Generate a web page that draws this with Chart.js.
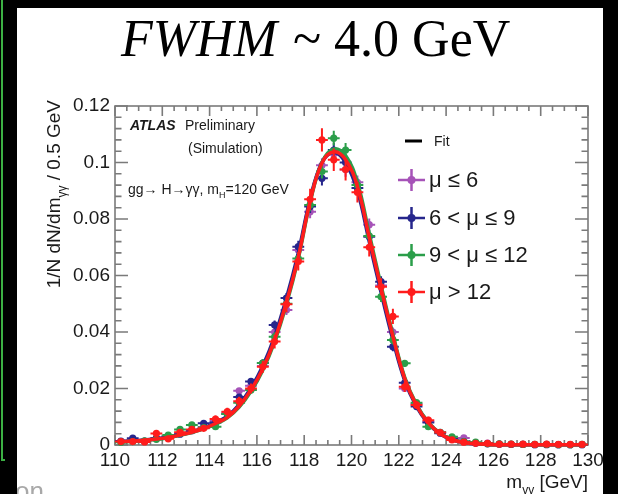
<!DOCTYPE html>
<html>
<head>
<meta charset="utf-8">
<script src="https://cdn.jsdelivr.net/npm/chart.js@4.4.0/dist/chart.umd.min.js"></script>
<style>
html, body { margin: 0; padding: 0; background: #000; }
canvas { display: block; }
</style>
</head>
<body>
<canvas id="massChart" width="618" height="494"></canvas>
<script>
// bin centres of m_yy (0.5 GeV bins)
const binCenters = [110.25, 110.75, 111.25, 111.75, 112.25, 112.75, 113.25, 113.75, 114.25, 114.75,
    115.25, 115.75, 116.25, 116.75, 117.25, 117.75, 118.25, 118.75, 119.25, 119.75,
    120.25, 120.75, 121.25, 121.75, 122.25, 122.75, 123.25, 123.75, 124.25, 124.75,
    125.25, 125.75, 126.25, 126.75, 127.25, 127.75, 128.25, 128.75, 129.25, 129.75]

const seriesLabels = ['μ ≤ 6', '6 < μ ≤ 9', '9 < μ ≤ 12', 'μ > 12']

// measured points, 1/N dN/dm per 0.5 GeV
const muUpTo6 = [0.0012, 0.0015, 0.0013, 0.0022, 0.0028, 0.0040, 0.0050, 0.0064, 0.0085, 0.0115,
    0.0192, 0.0210, 0.0280, 0.0400, 0.0478, 0.0690, 0.0826, 0.0990, 0.1030, 0.0975,
    0.0930, 0.0780, 0.0565, 0.0400, 0.0200, 0.0145, 0.0082, 0.0045, 0.0024, 0.0025,
    0.0008, 0.0007, 0.0003, 0.0002, 0.0002, 0.0001, 0.0002, 0.0001, 0.0001, 0.0001]
const mu6to9 = [0.0014, 0.0024, 0.0014, 0.0024, 0.0026, 0.0038, 0.0052, 0.0077, 0.0080, 0.0110,
    0.0170, 0.0225, 0.0290, 0.0425, 0.0520, 0.0702, 0.0844, 0.0944, 0.1044, 0.1000,
    0.0910, 0.0737, 0.0578, 0.0348, 0.0220, 0.0136, 0.0080, 0.0042, 0.0022, 0.0012,
    0.0006, 0.0004, 0.0003, 0.0002, 0.0002, 0.0001, 0.0001, 0.0001, 0.0001, 0.0001]
const mu9to12 = [0.0010, 0.0012, 0.0015, 0.0020, 0.0035, 0.0055, 0.0071, 0.0062, 0.0065, 0.0110,
    0.0150, 0.0195, 0.0290, 0.0383, 0.0500, 0.0660, 0.0850, 0.0968, 0.1086, 0.1044,
    0.0920, 0.0740, 0.0525, 0.0372, 0.0289, 0.0150, 0.0065, 0.0045, 0.0029, 0.0012,
    0.0010, 0.0005, 0.0004, 0.0003, 0.0002, 0.0002, 0.0002, 0.0001, 0.0001, 0.0002]
const muAbove12 = [0.0012, 0.0012, 0.0011, 0.0041, 0.0022, 0.0045, 0.0055, 0.0059, 0.0092, 0.0118,
    0.0155, 0.0200, 0.0277, 0.0366, 0.0498, 0.0650, 0.0870, 0.1080, 0.1010, 0.0975,
    0.0895, 0.0700, 0.0560, 0.0455, 0.0206, 0.0142, 0.0088, 0.0044, 0.0018, 0.0010,
    0.0006, 0.0006, 0.0003, 0.0003, 0.0003, 0.0002, 0.0003, 0.0002, 0.0002, 0.0002]

// vertical errors
const errLowMu = [0.0003, 0.0003, 0.0003, 0.0004, 0.0004, 0.0005, 0.0006, 0.0006, 0.0007, 0.0008,
    0.0010, 0.0011, 0.0013, 0.0016, 0.0018, 0.0021, 0.0023, 0.0025, 0.0026, 0.0025,
    0.0024, 0.0022, 0.0019, 0.0016, 0.0012, 0.0009, 0.0007, 0.0005, 0.0004, 0.0003,
    0.0002, 0.0002, 0.0001, 0.0001, 0.0001, 0.0001, 0.0001, 0.0001, 0.0001, 0.0001]
const errHighMu = [0.0004, 0.0004, 0.0004, 0.0008, 0.0006, 0.0008, 0.0009, 0.0010, 0.0012, 0.0014,
    0.0016, 0.0018, 0.0021, 0.0024, 0.0028, 0.0032, 0.0037, 0.0041, 0.0040, 0.0039,
    0.0037, 0.0033, 0.0030, 0.0027, 0.0018, 0.0015, 0.0012, 0.0008, 0.0005, 0.0004,
    0.0003, 0.0003, 0.0002, 0.0002, 0.0002, 0.0002, 0.0002, 0.0002, 0.0002, 0.0002]

// fitted curves at the bin centres
const fitUpTo6 = [0.0012, 0.0014, 0.0017, 0.0021, 0.0027, 0.0035, 0.0046, 0.0059, 0.0077, 0.0100,
    0.0140, 0.0197, 0.0273, 0.0376, 0.0510, 0.0670, 0.0865, 0.0998, 0.1035, 0.1005,
    0.0910, 0.0732, 0.0552, 0.0383, 0.0234, 0.0140, 0.0079, 0.0041, 0.0020, 0.0009,
    0.0004, 0.0002, 0.0001, 0.0001, 0.0001, 0.0001, 0.0001, 0.0001, 0.0001, 0.0001]
const fit6to9 = [0.0013, 0.0015, 0.0018, 0.0022, 0.0028, 0.0036, 0.0047, 0.0060, 0.0079, 0.0102,
    0.0143, 0.0202, 0.0280, 0.0385, 0.0520, 0.0680, 0.0870, 0.1000, 0.1035, 0.1000,
    0.0900, 0.0720, 0.0540, 0.0372, 0.0228, 0.0136, 0.0076, 0.0039, 0.0019, 0.0009,
    0.0004, 0.0002, 0.0001, 0.0001, 0.0001, 0.0001, 0.0001, 0.0001, 0.0001, 0.0001]
const fit9to12 = [0.0011, 0.0013, 0.0016, 0.0020, 0.0026, 0.0034, 0.0044, 0.0057, 0.0074, 0.0096,
    0.0134, 0.0190, 0.0265, 0.0366, 0.0498, 0.0660, 0.0858, 0.1000, 0.1048, 0.1025,
    0.0930, 0.0748, 0.0565, 0.0392, 0.0240, 0.0143, 0.0080, 0.0041, 0.0020, 0.0010,
    0.0005, 0.0002, 0.0001, 0.0001, 0.0001, 0.0001, 0.0001, 0.0001, 0.0001, 0.0001]
const fitAbove12 = [0.0012, 0.0014, 0.0017, 0.0021, 0.0027, 0.0035, 0.0045, 0.0058, 0.0076, 0.0098,
    0.0138, 0.0195, 0.0270, 0.0372, 0.0505, 0.0665, 0.0862, 0.0998, 0.1038, 0.1010,
    0.0915, 0.0735, 0.0555, 0.0385, 0.0235, 0.0140, 0.0078, 0.0040, 0.0019, 0.0009,
    0.0004, 0.0002, 0.0001, 0.0001, 0.0001, 0.0001, 0.0001, 0.0001, 0.0001, 0.0001]

const colors = ['#a653b8', '#26268c', '#2b9e4a', '#ff1c1c']
const binHalfWidth = 0.25

const SANS = '"Liberation Sans", Arial, sans-serif'
const SERIF = '"Liberation Serif", "Times New Roman", serif'

const toPoints = values => values.map((v, i) => ({ x: binCenters[i], y: v }))

const pointSet = (values, errors, color) => ({
    type: 'scatter',
    data: toPoints(values),
    errors: errors,
    backgroundColor: color,
    borderColor: color,
    pointRadius: 3.6,
    pointBorderWidth: 0,
    clip: false
})

const fitSet = (values, color) => ({
    type: 'line',
    data: toPoints(values),
    borderColor: color,
    borderWidth: 3.5,
    pointRadius: 0,
    tension: 0.4,
    fill: false,
    clip: false
})

// index 0 is drawn on top, so the high pile-up series comes first
const datasets = [
    pointSet(muAbove12, errHighMu, colors[3]), fitSet(fitAbove12, colors[3]),
    pointSet(mu9to12, errLowMu, colors[2]), fitSet(fit9to12, colors[2]),
    pointSet(mu6to9, errLowMu, colors[1]), fitSet(fit6to9, colors[1]),
    pointSet(muUpTo6, errLowMu, colors[0]), fitSet(fitUpTo6, colors[0])
]

// text with subscripts, parts = [[text, isSub], ...]
function richWidth(ctx, parts, size) {
    let w = 0
    for (const [t, sub] of parts) {
        ctx.font = (sub ? Math.round(size * 0.65) : size) + 'px ' + SANS
        w += ctx.measureText(t).width
    }
    return w
}
function drawRich(ctx, parts, x, y, size) {
    let cx = x
    ctx.textAlign = 'left'
    ctx.textBaseline = 'alphabetic'
    for (const [t, sub] of parts) {
        ctx.font = (sub ? Math.round(size * 0.65) : size) + 'px ' + SANS
        ctx.fillText(t, cx, sub ? y + size * 0.3 : y)
        cx += ctx.measureText(t).width
    }
}

const pageFrame = {
    id: 'pageFrame',
    beforeDraw(chart) {
        const ctx = chart.ctx
        ctx.save()
        ctx.fillStyle = '#000'
        ctx.fillRect(0, 0, chart.width, chart.height)
        ctx.fillStyle = '#fff'
        ctx.fillRect(17, 8, 586, 486)
        ctx.strokeStyle = '#3cb043'
        ctx.lineWidth = 2
        ctx.beginPath()
        ctx.moveTo(2, 0)
        ctx.lineTo(2, 460)
        ctx.lineTo(5, 460)
        ctx.stroke()

        // leftover slide text, cut by the border
        ctx.beginPath()
        ctx.rect(17, 8, 586, 486)
        ctx.clip()
        ctx.fillStyle = '#a8a8a8'
        ctx.font = '26px ' + SANS
        ctx.textAlign = 'right'
        ctx.fillText('tion', 44, 500)
        ctx.restore()

        // slide title
        ctx.save()
        ctx.fillStyle = '#000'
        ctx.textBaseline = 'alphabetic'
        ctx.textAlign = 'left'
        ctx.font = 'italic 52px ' + SERIF
        ctx.fillText('FWHM', 121, 56)
        const w = ctx.measureText('FWHM').width
        ctx.font = '52px ' + SERIF
        ctx.fillText(' ~ 4.0 GeV', 121 + w + 3, 56)
        ctx.restore()
    }
}

const axisFrame = {
    id: 'axisFrame',
    beforeDatasetsDraw(chart) {
        const { ctx, chartArea: a, scales: { x, y } } = chart
        ctx.save()
        ctx.strokeStyle = '#7a7a7a'
        ctx.lineWidth = 1.6
        ctx.strokeRect(a.left, a.top, a.right - a.left, a.bottom - a.top)
        ctx.beginPath()
        for (let i = 0; i <= 30; i++) {
            const py = y.getPixelForValue(i * 0.004)
            const len = i % 5 === 0 ? 13 : 6.5
            ctx.moveTo(a.left, py); ctx.lineTo(a.left + len, py)
            ctx.moveTo(a.right, py); ctx.lineTo(a.right - len, py)
        }
        for (let i = 0; i <= 40; i++) {
            const px = x.getPixelForValue(110 + i * 0.5)
            const len = i % 4 === 0 ? 10 : 5
            ctx.moveTo(px, a.bottom); ctx.lineTo(px, a.bottom - len)
            ctx.moveTo(px, a.top); ctx.lineTo(px, a.top + len)
        }
        ctx.stroke()
        ctx.restore()
    }
}

const errorBars = {
    id: 'errorBars',
    beforeDatasetDraw(chart, args) {
        const ds = chart.data.datasets[args.index]
        if (!ds.errors) return
        const { ctx, scales: { x, y } } = chart
        ctx.save()
        ctx.strokeStyle = ds.borderColor
        ctx.lineWidth = 2
        ctx.beginPath()
        ds.data.forEach((p, i) => {
            const px = x.getPixelForValue(p.x)
            const py = y.getPixelForValue(p.y)
            ctx.moveTo(x.getPixelForValue(p.x - binHalfWidth), py)
            ctx.lineTo(x.getPixelForValue(p.x + binHalfWidth), py)
            ctx.moveTo(px, y.getPixelForValue(p.y - ds.errors[i]))
            ctx.lineTo(px, y.getPixelForValue(p.y + ds.errors[i]))
        })
        ctx.stroke()
        ctx.restore()
    }
}

const annotations = {
    id: 'annotations',
    afterDraw(chart) {
        const { ctx, chartArea: a } = chart
        ctx.save()
        ctx.fillStyle = '#1a1a1a'

        // x title
        const xParts = [['m', false], ['γγ', true], [' [GeV]', false]]
        drawRich(ctx, xParts, a.right - richWidth(ctx, xParts, 19), 488, 19)

        // y title
        const yParts = [['1/N dN/dm', false], ['γγ', true], [' / 0.5 GeV', false]]
        ctx.save()
        ctx.translate(60, a.top - 6)
        ctx.rotate(-Math.PI / 2)
        drawRich(ctx, yParts, -richWidth(ctx, yParts, 19), 0, 19)
        ctx.restore()

        // ATLAS label
        ctx.textAlign = 'left'
        ctx.font = 'italic bold 14px ' + SANS
        ctx.fillText('ATLAS', 130, 130)
        ctx.font = '14px ' + SANS
        ctx.fillText('Preliminary', 185, 130)
        ctx.fillText('(Simulation)', 188, 153)
        drawRich(ctx, [['gg→ H→γγ, m', false], ['H', true], ['=120 GeV', false]], 128, 194, 14)

        // legend
        ctx.strokeStyle = '#000'
        ctx.lineWidth = 3
        ctx.beginPath()
        ctx.moveTo(405, 141); ctx.lineTo(422, 141)
        ctx.stroke()
        ctx.font = '14px ' + SANS
        ctx.textBaseline = 'middle'
        ctx.fillText('Fit', 434, 142)
        const rows = [180, 218, 255, 292]
        seriesLabels.forEach((label, i) => {
            const cy = rows[i]
            ctx.strokeStyle = colors[i]
            ctx.fillStyle = colors[i]
            ctx.lineWidth = 2.5
            ctx.beginPath()
            ctx.moveTo(398, cy); ctx.lineTo(425, cy)
            ctx.moveTo(411.5, cy - 11); ctx.lineTo(411.5, cy + 11)
            ctx.stroke()
            ctx.beginPath()
            ctx.arc(411.5, cy, 4, 0, Math.PI * 2)
            ctx.fill()
            ctx.fillStyle = '#1a1a1a'
            ctx.font = '22px ' + SANS
            ctx.fillText(label, 429, cy + 1)
        })
        ctx.restore()
    }
}

const massChart = new Chart(document.getElementById('massChart'), {
    type: 'scatter',
    data: { datasets: datasets },
    options: {
        responsive: false,
        animation: false,
        events: [],
        layout: { padding: { left: 0, right: 30, top: 106, bottom: 0 } },
        plugins: {
            legend: { display: false },
            tooltip: { enabled: false }
        },
        scales: {
            x: {
                type: 'linear',
                min: 110,
                max: 130,
                afterFit: scale => { scale.height = 49 },
                grid: { display: false, drawTicks: false },
                border: { display: false },
                ticks: {
                    stepSize: 2,
                    autoSkip: false,
                    maxRotation: 0,
                    padding: 4,
                    color: '#1a1a1a',
                    font: { family: SANS, size: 19 }
                }
            },
            y: {
                type: 'linear',
                min: 0,
                max: 0.12,
                afterFit: scale => { scale.width = 115 },
                grid: { display: false, drawTicks: false },
                border: { display: false },
                ticks: {
                    stepSize: 0.02,
                    padding: 5,
                    color: '#1a1a1a',
                    font: { family: SANS, size: 19 },
                    callback: v => String(Number(v.toFixed(2)))
                }
            }
        }
    },
    plugins: [pageFrame, axisFrame, errorBars, annotations]
})
</script>
</body>
</html>
